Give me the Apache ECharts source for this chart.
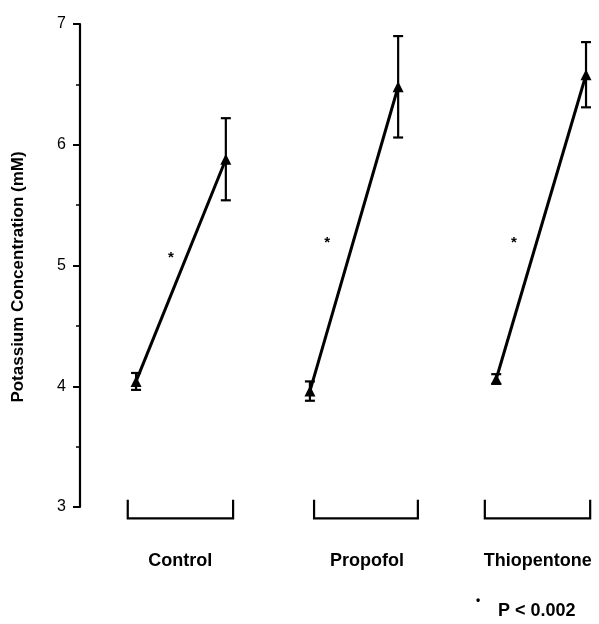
<!DOCTYPE html>
<html>
<head>
<meta charset="utf-8">
<script src="https://cdn.jsdelivr.net/npm/echarts@6/dist/echarts.min.js"></script>
<style>html,body{margin:0;padding:0;background:#fff}#c{width:599px;height:624px}</style>
</head>
<body>
<div id="c"></div>
<script>
// ---- data ----
var groups = ['Control', 'Propofol', 'Thiopentone'];
var preMean = [4.04, 3.96, 4.06];
var preSE = [0.07, 0.08, 0.04];
var postMean = [5.88, 6.48, 6.58];
var postSE = [0.34, 0.42, 0.27];
var starY = [5.09, 5.21, 5.21];
var yTicks = [3, 4, 5, 6, 7];
var noteText = 'P < 0.002';

// ---- layout (horizontal positions on a hidden 0..10 axis) ----
var preX = [1.08, 4.43, 8.02];
var postX = [2.81, 6.13, 9.75];
var starX = [1.75, 4.76, 8.36];
var brStart = [0.92, 4.51, 7.80];
var brEnd = [2.95, 6.51, 9.83];
var labelX = [1.93, 5.53, 8.82];

var FONT = '"Liberation Sans", Arial, Helvetica, sans-serif';
var chart = echarts.init(document.getElementById('c'));

var series = [];
groups.forEach(function (g, i) {
  series.push({
    type: 'line', name: g,
    data: [[preX[i], preMean[i]], [postX[i], postMean[i]]],
    symbol: 'triangle', symbolSize: 11, showSymbol: true,
    lineStyle: { color: '#000', width: 3 },
    itemStyle: { color: '#000' },
    z: 5, animation: false
  });
});

var errData = [];
groups.forEach(function (g, i) {
  errData.push([preX[i], preMean[i] - preSE[i], preMean[i] + preSE[i]]);
  errData.push([postX[i], postMean[i] - postSE[i], postMean[i] + postSE[i]]);
});
series.push({
  type: 'custom', data: errData, z: 4, animation: false,
  renderItem: function (params, api) {
    var lo = api.coord([api.value(0), api.value(1)]);
    var hi = api.coord([api.value(0), api.value(2)]);
    var w = 5;
    var st = { stroke: '#000', lineWidth: 2.2, fill: null };
    return { type: 'group', children: [
      { type: 'line', shape: { x1: lo[0], y1: lo[1], x2: hi[0], y2: hi[1] }, style: st },
      { type: 'line', shape: { x1: lo[0] - w, y1: lo[1], x2: lo[0] + w, y2: lo[1] }, style: st },
      { type: 'line', shape: { x1: hi[0] - w, y1: hi[1], x2: hi[0] + w, y2: hi[1] }, style: st }
    ]};
  }
});

series.push({
  type: 'custom', animation: false, z: 4,
  data: groups.map(function (g, i) { return [starX[i], starY[i]]; }),
  renderItem: function (params, api) {
    var p = api.coord([api.value(0), api.value(1)]);
    return { type: 'text', x: p[0], y: p[1] + 3,
      style: { text: '*', font: 'bold 15px ' + FONT, fill: '#000', align: 'center', verticalAlign: 'middle' } };
  }
});

series.push({
  type: 'custom', animation: false, clip: false, z: 4,
  data: groups.map(function (g, i) { return [brStart[i], brEnd[i], labelX[i], 3.06, 2.905]; }),
  renderItem: function (params, api) {
    var a = api.coord([api.value(0), api.value(3)]);
    var b = api.coord([api.value(1), api.value(4)]);
    var lx = api.coord([api.value(2), api.value(4)]);
    var st = { stroke: '#000', lineWidth: 2.2, fill: null };
    return { type: 'group', children: [
      { type: 'polyline', shape: { points: [[a[0], a[1]], [a[0], b[1]], [b[0], b[1]], [b[0], a[1]]] }, style: st },
      { type: 'text', x: lx[0], y: b[1] + 43,
        style: { text: groups[params.dataIndex], font: 'bold 18px ' + FONT, fill: '#000', align: 'center', verticalAlign: 'middle' } }
    ]};
  }
});

chart.setOption({
  animation: false,
  backgroundColor: '#fff',
  grid: { left: 80, right: 0, top: 24, bottom: 117 },
  xAxis: { type: 'value', min: 0, max: 10, show: false },
  yAxis: {
    type: 'value', min: 3, max: 7, interval: 1,
    axisLine: { show: true, lineStyle: { color: '#000', width: 2.2 } },
    axisTick: { show: true, length: 7, lineStyle: { color: '#000', width: 2 } },
    minorTick: { show: true, splitNumber: 2, length: 4, lineStyle: { color: '#000', width: 1.5 } },
    splitLine: { show: false },
    axisLabel: { fontSize: 16, color: '#000', fontFamily: FONT, margin: 14,
      formatter: function (v) { return yTicks.indexOf(v) >= 0 ? String(v) : ''; } }
  },
  graphic: [
    { type: 'text', x: 18, y: 277, rotation: Math.PI / 2,
      style: { text: 'Potassium Concentration (mM)', font: 'bold 17px ' + FONT, fill: '#000', align: 'center', verticalAlign: 'middle' } },
    { type: 'text', x: 478, y: 601,
      style: { text: '•', font: 'bold 12px ' + FONT, fill: '#000', align: 'center', verticalAlign: 'middle' } },
    { type: 'text', x: 498, y: 611,
      style: { text: noteText, font: 'bold 18px ' + FONT, fill: '#000', align: 'left', verticalAlign: 'middle' } }
  ],
  series: series
});
</script>
</body>
</html>
